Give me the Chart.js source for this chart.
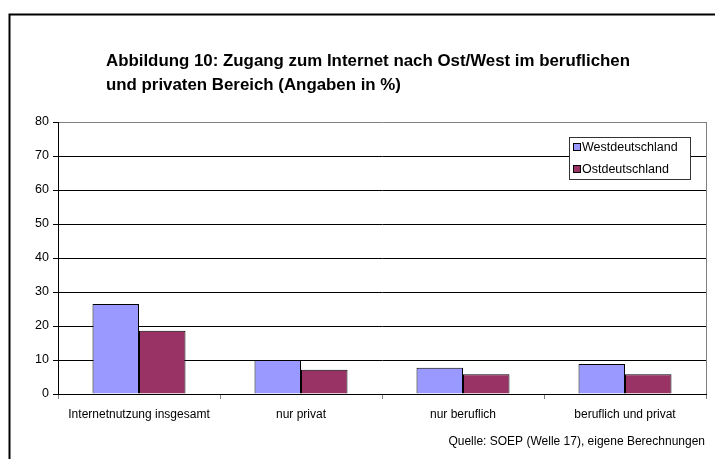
<!DOCTYPE html>
<html>
<head>
<meta charset="utf-8">
<script src="https://cdn.jsdelivr.net/npm/chart.js@4.4.1/dist/chart.umd.min.js"></script>
<style>
  html, body { margin: 0; padding: 0; background: #fff; }
  canvas { display: block; }
</style>
</head>
<body>
<canvas id="chart" width="717" height="459"></canvas>
<script>
const categories = ['Internetnutzung insgesamt', 'nur privat', 'nur beruflich', 'beruflich und privat'];
const west = [26.5, 10.0, 7.7, 8.8];
const east = [18.6, 7.1, 5.8, 5.8];
const seriesNames = ['Westdeutschland', 'Ostdeutschland'];
const yTicks = [0, 10, 20, 30, 40, 50, 60, 70, 80];
const titleLines = ['Abbildung 10: Zugang zum Internet nach Ost/West im beruflichen', 'und privaten Bereich (Angaben in %)'];
const sourceText = 'Quelle: SOEP (Welle 17), eigene Berechnungen';

const FONT = '"Liberation Sans", Arial, sans-serif';

const decor = {
  id: 'decor',
  beforeDraw(chart) {
    const ctx = chart.ctx;
    ctx.save();
    ctx.fillStyle = '#fff';
    ctx.fillRect(0, 0, chart.width, chart.height);
    ctx.restore();
  },
  afterDraw(chart) {
    const ctx = chart.ctx;
    const area = chart.chartArea;
    ctx.save();

    // outer frame (top + left)
    ctx.strokeStyle = '#000';
    ctx.lineWidth = 2;
    ctx.beginPath();
    ctx.moveTo(715, 14.5);
    ctx.lineTo(9.5, 14.5);
    ctx.lineTo(9.5, 459);
    ctx.stroke();

    // right border of plot area
    ctx.strokeStyle = '#808080';
    ctx.lineWidth = 1;
    ctx.beginPath();
    ctx.moveTo(area.right + 0.5, area.top);
    ctx.lineTo(area.right + 0.5, area.bottom);
    ctx.stroke();

    // title, stretched to the width of the original
    ctx.fillStyle = '#000';
    ctx.font = 'bold 16px ' + FONT;
    ctx.textBaseline = 'alphabetic';
    ctx.textAlign = 'left';
    const w0 = ctx.measureText(titleLines[0]).width;
    const sx = 524 / w0;
    titleLines.forEach((line, i) => {
      ctx.save();
      ctx.translate(106, 66 + i * 24);
      ctx.scale(sx, 1);
      ctx.fillText(line, 0, 0);
      ctx.restore();
    });

    // legend
    const lx = 569.5, ly = 137.5, lw = 121, lh = 42;
    ctx.fillStyle = '#fff';
    ctx.fillRect(lx, ly, lw, lh);
    ctx.strokeStyle = '#333';
    ctx.lineWidth = 1;
    ctx.strokeRect(lx, ly, lw, lh);
    ctx.font = '12.5px ' + FONT;
    ctx.textBaseline = 'middle';
    chart.data.datasets.forEach((ds, i) => {
      const cy = 147 + i * 22;
      ctx.fillStyle = ds.backgroundColor;
      ctx.fillRect(573, cy - 4, 8, 8);
      ctx.strokeStyle = '#000';
      ctx.strokeRect(573.5, cy - 3.5, 7, 7);
      ctx.fillStyle = '#000';
      ctx.fillText(ds.label, 582, cy + 0.5);
    });

    // source note
    ctx.font = '12px ' + FONT;
    ctx.textAlign = 'right';
    ctx.fillText(sourceText, 705, 442);
    ctx.restore();
  }
};

new Chart(document.getElementById('chart'), {
  type: 'bar',
  data: {
    labels: categories,
    datasets: [
      { label: seriesNames[0], data: west, backgroundColor: '#9999FF', borderColor: '#000', borderWidth: 1 },
      { label: seriesNames[1], data: east, backgroundColor: '#993366', borderColor: '#000', borderWidth: 1 }
    ]
  },
  options: {
    responsive: false,
    animation: false,
    devicePixelRatio: 1,
    categoryPercentage: 0.574,
    barPercentage: 1.0,
    layout: { padding: { left: 10, top: 122, right: 11, bottom: 25 } },
    plugins: {
      legend: { display: false },
      title: { display: false },
      tooltip: { enabled: false }
    },
    scales: {
      x: {
        offset: true,
        afterFit: s => { s.height = 40; },
        grid: { offset: true, drawOnChartArea: false, drawTicks: true, tickLength: 5, tickColor: '#808080' },
        border: { color: '#000', width: 1 },
        ticks: { color: '#000', font: { family: FONT, size: 12 }, padding: 8, maxRotation: 0, autoSkip: false }
      },
      y: {
        min: 0,
        max: 80,
        afterFit: s => { s.width = 48; },
        afterBuildTicks: s => { s.ticks = yTicks.map(v => ({ value: v })); },
        grid: {
          color: c => (c.tick && c.tick.value === 80 ? '#808080' : '#000'),
          tickColor: '#000',
          tickLength: 5,
          lineWidth: 1
        },
        border: { color: '#000', width: 1 },
        ticks: { color: '#000', font: { family: FONT, size: 12.5 }, padding: 4 }
      }
    }
  },
  plugins: [decor]
});
</script>
</body>
</html>
